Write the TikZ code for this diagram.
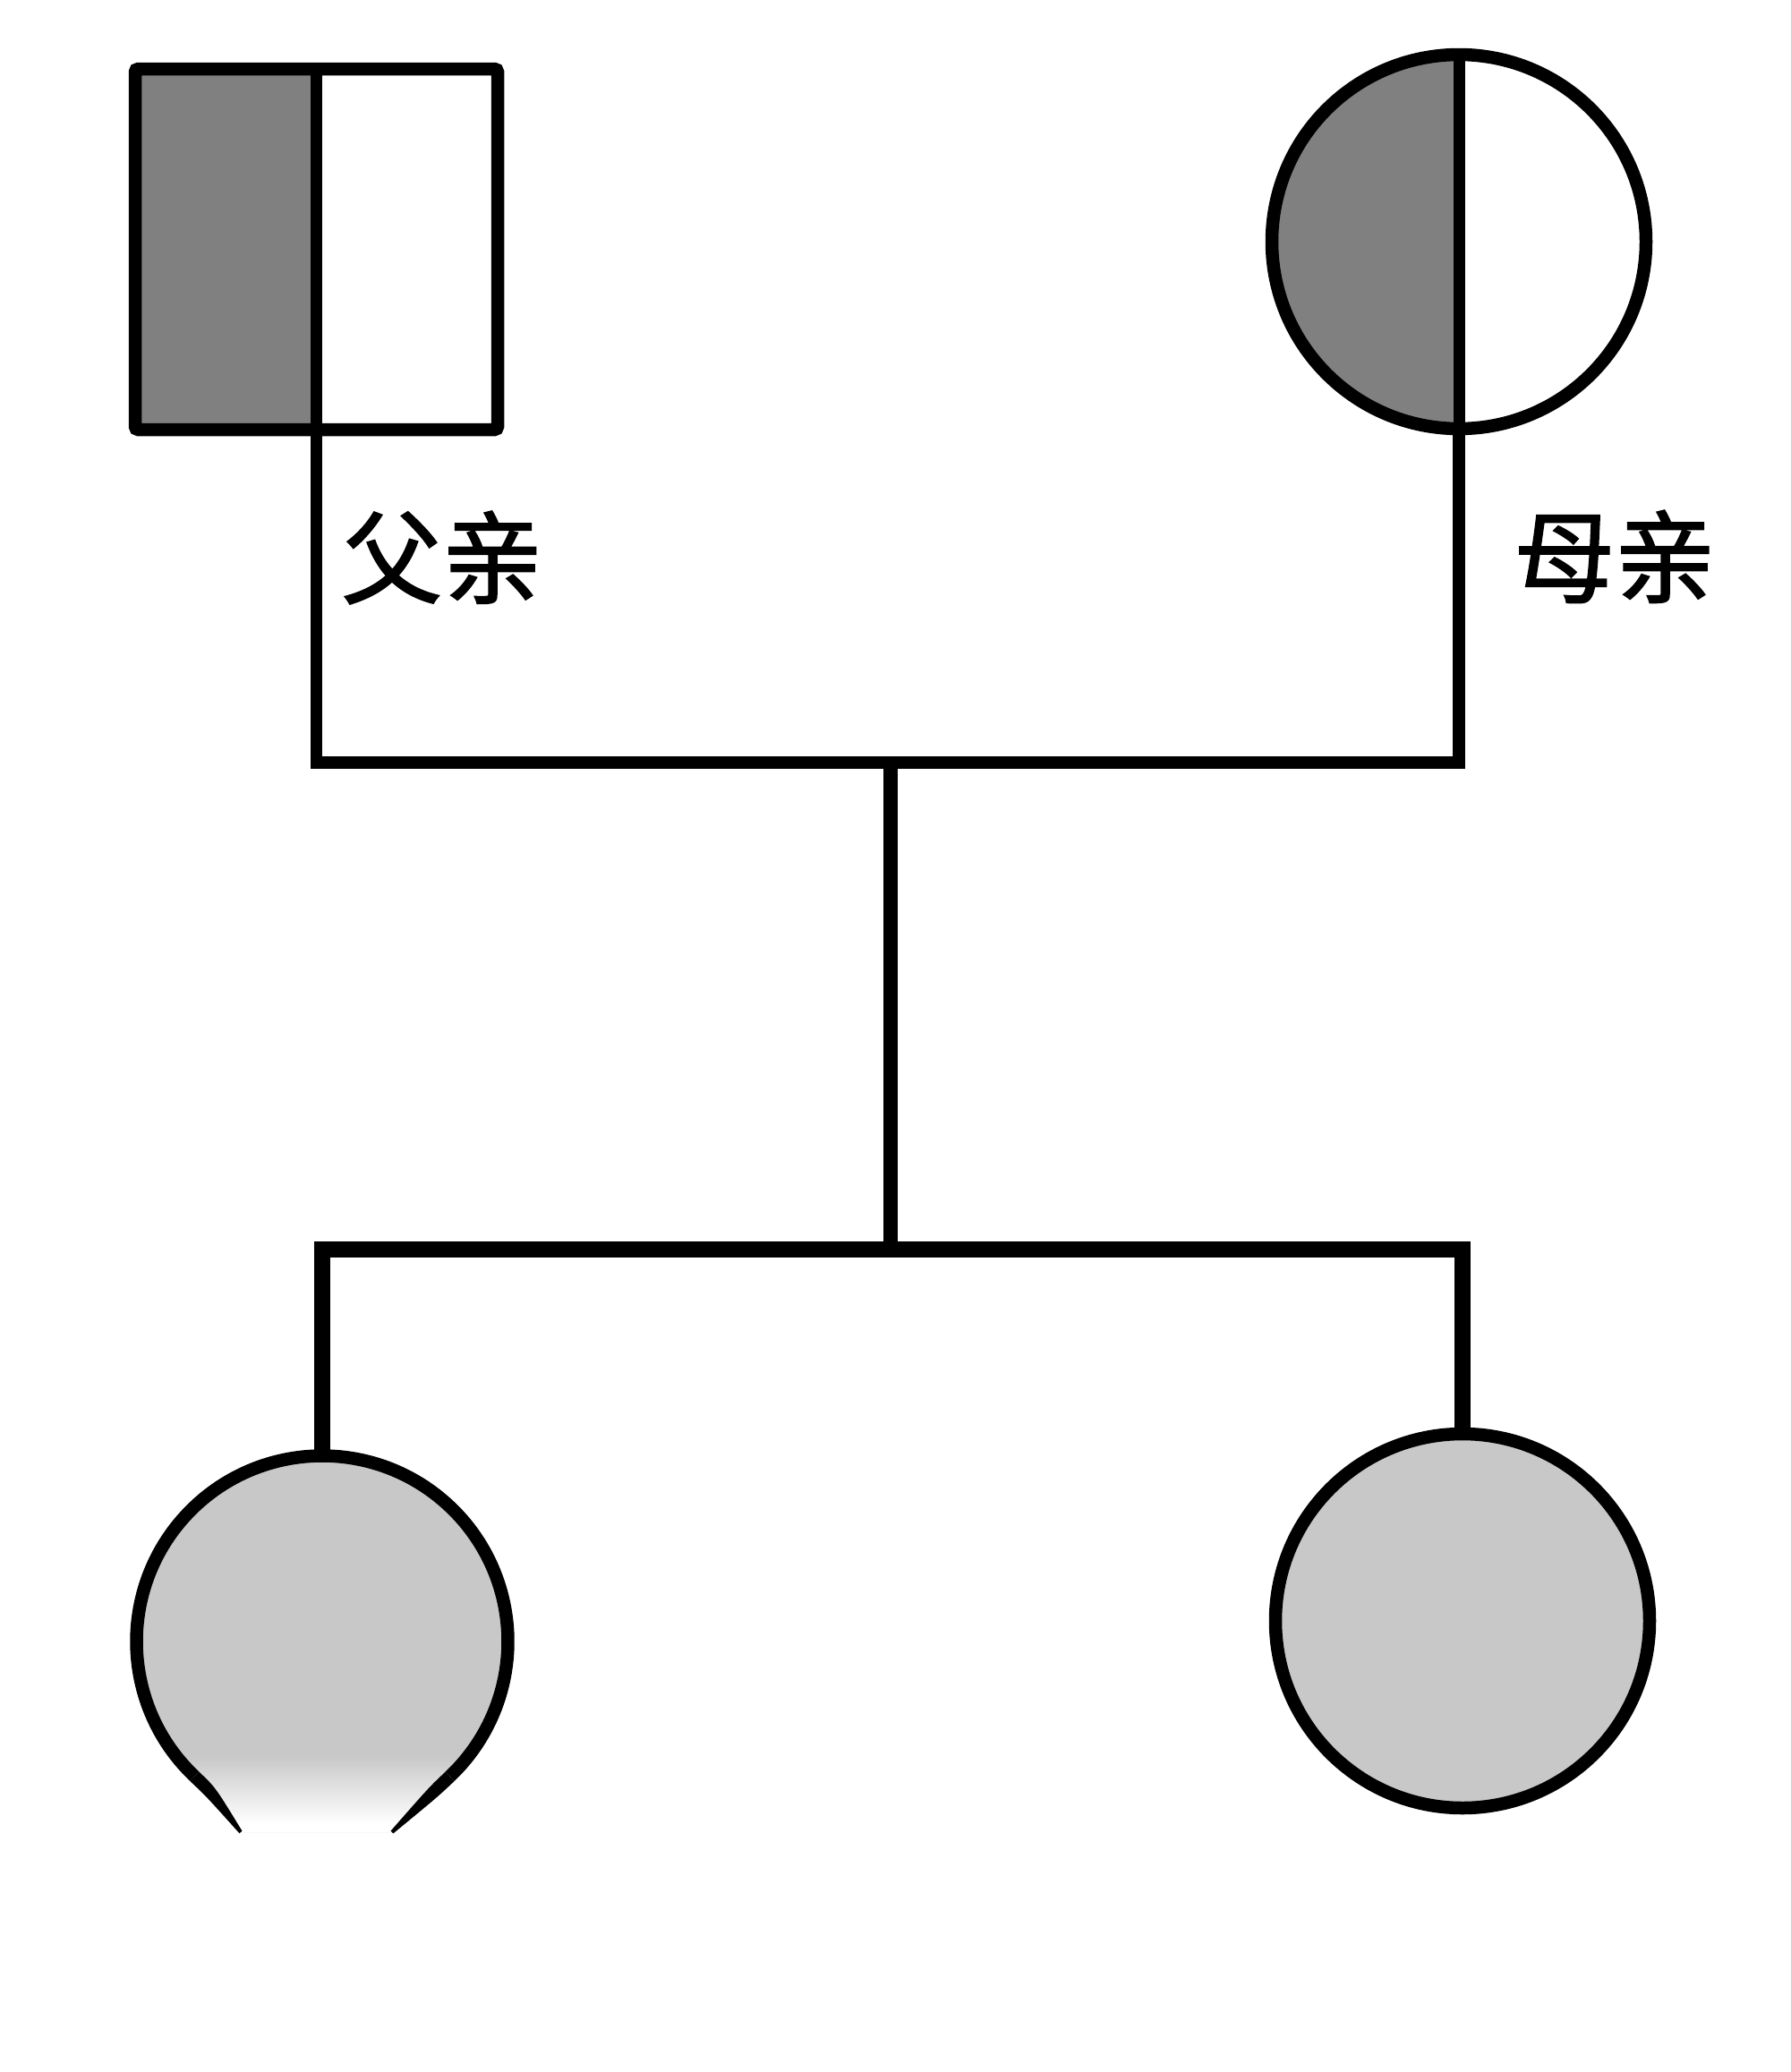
\documentclass[tikz,border=0pt]{standalone}
\usepackage{fontspec}
\usetikzlibrary{calc}
\newfontfamily\cjk[FakeBold=1.6]{Noto Sans CJK SC}
\definecolor{pgray}{HTML}{808080}
\definecolor{cgray}{HTML}{C8C8C8}
\begin{document}
\begin{tikzpicture}[
  outline/.style={draw=black, line width=0.145cm},
  toplink/.style={draw=black, line width=0.135cm, line join=miter},
  sublink/.style={draw=black, line width=0.18cm, line join=miter},
  stemlink/.style={draw=black, line width=0.16cm},
  divider/.style={draw=black, line width=0.13cm},
  lbl/.style={font=\cjk\fontsize{32}{36}\selectfont, inner sep=0pt},
  anchorbox/.style={inner sep=0pt, outer sep=0pt}
]
\fill[white] (0,0) rectangle (20,-23.15);
\useasboundingbox (0,0) rectangle (20,-23.15);

% ---- nodes (shapes) ----
\node[rectangle, anchorbox, minimum width=4.05cm, minimum height=4.03cm] (father) at (3.535,-2.785) {};
\node[circle, anchorbox, minimum size=4.18cm] (mother) at (16.30,-2.70) {};
\node[circle, anchorbox, minimum size=4.15cm] (child1) at (3.60,-18.34) {};
\node[circle, anchorbox, minimum size=4.18cm] (child2) at (16.34,-18.11) {};

\coordinate (pm) at (9.95,-8.52);
\coordinate (sib) at (9.95,-13.96);

% ---- connectors ----
\draw[toplink] (father.south) |- (pm) -| (mother.south);
\draw[stemlink] (pm) -- (sib);
\draw[sublink] (child1.north) |- (sib) -| (child2.north);

% ---- father ----
\fill[pgray] (father.north west) rectangle (father.south);
\draw[outline, rounded corners=1pt] (father.north west) rectangle (father.south east);
\draw[divider] (father.north) -- (father.south);

% ---- mother ----
\fill[pgray] (mother.north) arc[start angle=90, end angle=270, radius=2.09cm] -- cycle;
\draw[outline] (mother.center) circle[radius=2.09cm];
\draw[divider] (mother.north) -- (mother.south);

% ---- labels ----
\node[lbl] (flabel) at (4.94,-6.23) {父亲};
\node[lbl] (mlabel) at (18.04,-6.22) {母亲};

% ---- child 2 ----
\draw[outline, fill=cgray] (child2.center) circle[radius=2.09cm];

% ---- child 1 (pinched, faded bottom) ----
\coordinate (ld) at ($(child1.center)+(226.6:2.075)$);
\coordinate (rd) at ($(child1.center)+(-46.6:2.075)$);
\coordinate (le) at (2.69,-20.47);
\coordinate (re) at (4.38,-20.47);
\fill[cgray] (le) -- (ld) arc[start angle=226.6, end angle=-46.6, radius=2.075cm] -- (re) -- cycle;
\begin{scope}
  \clip (le) -- (ld) arc[start angle=226.6, end angle=-46.6, radius=2.075cm] -- (re) -- cycle;
  \shade[top color=cgray, bottom color=white] (1.4,-19.62) rectangle (5.8,-20.38);
  \fill[white] (1.4,-20.38) rectangle (5.8,-20.7);
\end{scope}
\draw[outline] (ld) arc[start angle=226.6, end angle=-46.6, radius=2.075cm];
\fill[black] (2.224,-19.796) -- (2.125,-19.901) .. controls (2.307,-20.073) .. (2.675,-20.483) -- (2.705,-20.457) .. controls (2.406,-19.968) .. cycle;
\fill[black] (5.075,-19.901) -- (4.976,-19.796) .. controls (4.794,-19.968) .. (4.366,-20.456) -- (4.394,-20.484) .. controls (4.893,-20.073) .. cycle;
\end{tikzpicture}
\end{document}
